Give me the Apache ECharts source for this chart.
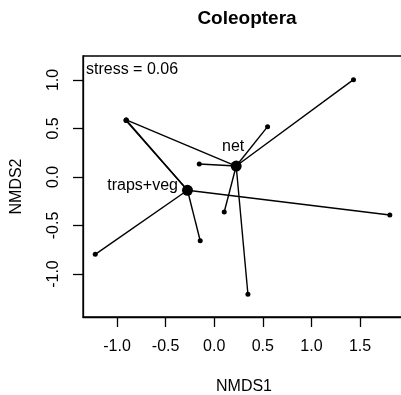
<!DOCTYPE html>
<html>
<head>
<meta charset="utf-8">
<script src="https://cdn.jsdelivr.net/npm/echarts@6/dist/echarts.min.js"></script>
<style>
  html, body { margin: 0; padding: 0; background: #fff; }
  #chart { width: 401px; height: 395px; }
</style>
</head>
<body>
<div id="chart"></div>
<script>
// NMDS site scores, one list per sampling method
var netX = [1.433, 0.549, -0.905, -0.154, 0.103, 0.347];
var netY = [1.003, 0.519, 0.588, 0.134, -0.361, -1.209];
var trapsX = [-1.224, -0.144, 1.807, -0.905, -0.908];
var trapsY = [-0.797, -0.657, -0.392, 0.588, 0.581];

// group centroids (spider hubs)
var groupNames = ['net', 'traps+veg'];
var centroidX = [0.226, -0.275];
var centroidY = [0.113, -0.137];

var tickValues = [-1.0, -0.5, 0.0, 0.5, 1.0, 1.5];
var yTickValues = [-1.0, -0.5, 0.0, 0.5, 1.0];
var stressText = 'stress = 0.06';

var FONT = '"Liberation Sans", Arial, Helvetica, sans-serif';

function spider(xs, ys, cx, cy) {
  var out = [];
  for (var i = 0; i < xs.length; i++) {
    out.push({
      type: 'line',
      data: [[cx, cy], [xs[i], ys[i]]],
      symbol: 'none',
      silent: true,
      lineStyle: { color: '#000', width: 1.4 },
      z: 2
    });
  }
  return out;
}

function pairs(xs, ys) {
  return xs.map(function (x, i) { return [x, ys[i]]; });
}

var series = [];
series = series.concat(spider(netX, netY, centroidX[0], centroidY[0]));
series = series.concat(spider(trapsX, trapsY, centroidX[1], centroidY[1]));

series.push({
  type: 'scatter',
  data: pairs(netX, netY).concat(pairs(trapsX, trapsY)),
  symbol: 'circle',
  symbolSize: 5,
  itemStyle: { color: '#000', opacity: 1 },
  z: 3
});

var labelBase = { show: true, color: '#000', fontSize: 16, fontFamily: FONT };
series.push({
  type: 'scatter',
  symbol: 'circle',
  symbolSize: 11,
  itemStyle: { color: '#000', opacity: 1 },
  z: 4,
  data: [
    {
      value: [centroidX[0], centroidY[0]],
      label: Object.assign({}, labelBase, { position: 'top', distance: 6, offset: [-3, 0], formatter: groupNames[0] })
    },
    {
      value: [centroidX[1], centroidY[1]],
      label: Object.assign({}, labelBase, { position: 'left', distance: 4, offset: [0, -5], formatter: groupNames[1] })
    }
  ]
});

var chart = echarts.init(document.getElementById('chart'), null, { renderer: 'canvas' });
chart.setOption({
  animation: false,
  backgroundColor: '#fff',
  title: {
    text: 'Coleoptera',
    left: 242, top: 4, textAlign: 'center',
    textStyle: { fontFamily: FONT, fontSize: 19, fontWeight: 'bold', color: '#000' }
  },
  grid: {
    left: 83, top: 56, right: -4, bottom: 78,
    outerBoundsMode: 'none', containLabel: false,
    show: true, borderColor: '#000', borderWidth: 1.3, backgroundColor: 'transparent'
  },
  xAxis: {
    type: 'value',
    min: -1.35, max: 1.963,
    name: 'NMDS1', nameLocation: 'middle', nameGap: 62,
    nameTextStyle: { fontFamily: FONT, fontSize: 16, color: '#000' },
    axisLine: { show: true, onZero: false, lineStyle: { color: '#000', width: 1.3 } },
    axisTick: { show: true, length: 10, customValues: tickValues, lineStyle: { color: '#000', width: 1.3 } },
    axisLabel: {
      customValues: tickValues, margin: 22,
      fontFamily: FONT, fontSize: 16, color: '#000',
      formatter: function (v) { return v.toFixed(1); }
    },
    splitLine: { show: false }
  },
  yAxis: {
    type: 'value',
    min: -1.443, max: 1.247,
    name: 'NMDS2', nameLocation: 'middle', nameGap: 58, nameRotate: 90,
    nameTextStyle: { fontFamily: FONT, fontSize: 16, color: '#000' },
    axisLine: { show: true, onZero: false, lineStyle: { color: '#000', width: 1.3 } },
    axisTick: { show: true, length: 10, customValues: yTickValues, lineStyle: { color: '#000', width: 1.3 } },
    axisLabel: {
      customValues: yTickValues, margin: 21, rotate: 90,
      fontFamily: FONT, fontSize: 16, color: '#000',
      formatter: function (v) { return v.toFixed(1); }
    },
    splitLine: { show: false }
  },
  graphic: [{
    type: 'text', left: 86, top: 62,
    style: { text: stressText, font: '16px ' + FONT, fill: '#000' }
  }],
  series: series
});
</script>
</body>
</html>
